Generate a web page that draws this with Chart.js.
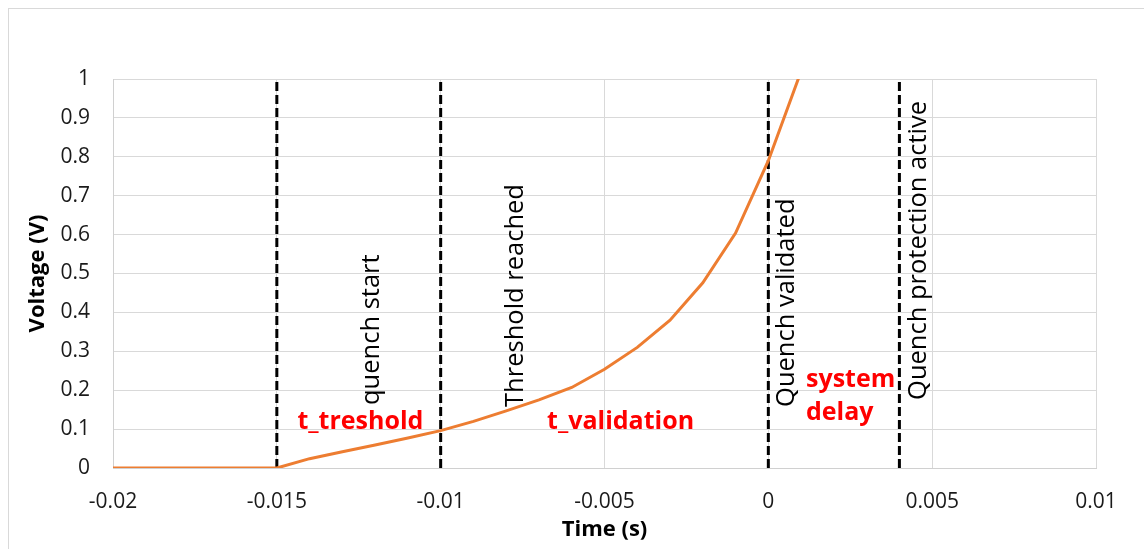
<!DOCTYPE html>
<html>
<head>
<meta charset="utf-8">
<title>Quench detection timeline</title>
<script src="https://cdn.jsdelivr.net/npm/chart.js@4.4.1/dist/chart.umd.min.js"></script>
<style>
  html, body { margin: 0; padding: 0; background: #fff; }
  #wrap { position: relative; width: 1144px; height: 549px; }
</style>
</head>
<body>
<div id="wrap"><canvas id="quench-chart"></canvas></div>
<script>
// measured coil voltage vs. time
const times = [-0.02, -0.019, -0.018, -0.017, -0.016, -0.015, -0.014, -0.013, -0.012, -0.011,
  -0.01, -0.009, -0.008, -0.007, -0.006, -0.005, -0.004, -0.003, -0.002, -0.001, 0, 0.001];
const voltages = [0, 0, 0, 0, 0, 0, 0.024, 0.042, 0.059, 0.077,
  0.096, 0.12, 0.147, 0.175, 0.207, 0.254, 0.31, 0.38, 0.476, 0.604, 0.79, 1.02];

// detection events (vertical markers)
const eventTimes = [-0.015, -0.01, 0, 0.004];
const eventNames = ['quench start', 'Threshold reached', 'Quench validated', 'Quench protection active'];

// phase names between the markers
const phaseNames = ['t_treshold', 't_validation', 'system\ndelay'];

const xTicks = [-0.02, -0.015, -0.01, -0.005, 0, 0.005, 0.01];
const yTicks = [0, 0.1, 0.2, 0.3, 0.4, 0.5, 0.6, 0.7, 0.8, 0.9, 1];

// where the text labels sit, in axis units
const eventLabelAnchors = [
  { x: -0.0121, y: 0.162 },
  { x: -0.0077, y: 0.157 },
  { x: 0.00057, y: 0.157 },
  { x: 0.0046, y: 0.175 }
];
const phaseLabelAnchors = [
  { x: -0.01245, y: 0.118, align: 'center' },
  { x: -0.00451, y: 0.118, align: 'center' },
  { x: 0.00115, y: 0.226, align: 'left' }
];

const FONT = '"Open Sans", "DejaVu Sans", sans-serif';

const datasets = [{
  label: 'Voltage',
  data: times.map((t, i) => ({ x: t, y: voltages[i] })),
  showLine: true,
  borderColor: '#ED7D31',
  borderWidth: 3,
  pointRadius: 0,
  tension: 0
}];

eventTimes.forEach((t, i) => {
  datasets.push({
    label: eventNames[i],
    data: [{ x: t, y: 0 }, { x: t, y: 1 }],
    showLine: true,
    borderColor: '#000',
    borderWidth: 3,
    borderDash: [9, 4],
    pointRadius: 0,
    clip: false
  });
});

// outer frame of the chart
const framePlugin = {
  id: 'frame',
  beforeDraw(chart) {
    const ctx = chart.ctx;
    ctx.save();
    ctx.strokeStyle = '#d9d9d9';
    ctx.lineWidth = 1;
    ctx.strokeRect(8.5, 8.5, chart.width + 20, chart.height + 20);
    ctx.restore();
  }
};

// rotated event labels and red phase labels
const labelPlugin = {
  id: 'labels',
  afterDatasetsDraw(chart) {
    const ctx = chart.ctx;
    const xs = chart.scales.x;
    const ys = chart.scales.y;
    ctx.save();

    ctx.fillStyle = '#000';
    ctx.font = '25.5px ' + FONT;
    ctx.textAlign = 'left';
    ctx.textBaseline = 'middle';
    eventNames.forEach((name, i) => {
      const a = eventLabelAnchors[i];
      ctx.save();
      ctx.translate(xs.getPixelForValue(a.x), ys.getPixelForValue(a.y));
      ctx.rotate(-Math.PI / 2);
      ctx.fillText(name, 0, 0);
      ctx.restore();
    });

    ctx.fillStyle = '#FF0000';
    ctx.font = 'bold 25px ' + FONT;
    phaseNames.forEach((name, i) => {
      const a = phaseLabelAnchors[i];
      ctx.textAlign = a.align;
      const px = xs.getPixelForValue(a.x);
      let py = ys.getPixelForValue(a.y);
      name.split('\n').forEach(line => {
        ctx.fillText(line, px, py);
        py += 33;
      });
    });

    ctx.restore();
  }
};

const ctx = document.getElementById('quench-chart').getContext('2d');
new Chart(ctx, {
  type: 'scatter',
  data: { datasets: datasets },
  plugins: [framePlugin, labelPlugin],
  options: {
    responsive: true,
    maintainAspectRatio: false,
    animation: false,
    layout: { padding: { top: 79, right: 48, bottom: 0, left: 0 } },
    plugins: {
      legend: { display: false },
      tooltip: { enabled: false }
    },
    scales: {
      x: {
        type: 'linear',
        min: xTicks[0],
        max: xTicks[xTicks.length - 1],
        afterBuildTicks: scale => { scale.ticks = xTicks.map(v => ({ value: v })); },
        afterFit: scale => { scale.height = 81; },
        grid: { color: '#d9d9d9', drawTicks: false },
        border: { color: '#d0d0d0' },
        ticks: {
          padding: 21,
          color: '#1a1a1a',
          font: { family: FONT, size: 21 },
          callback: v => String(Number(v.toFixed(3)))
        },
        title: {
          display: true,
          text: 'Time (s)',
          color: '#000',
          font: { family: FONT, size: 22, weight: 'bold' },
          padding: { top: 0, bottom: 6 }
        }
      },
      y: {
        min: yTicks[0],
        max: yTicks[yTicks.length - 1],
        afterBuildTicks: scale => { scale.ticks = yTicks.map(v => ({ value: v })); },
        afterFit: scale => { scale.width = 113; },
        grid: { color: '#d9d9d9', drawTicks: false },
        border: { color: '#d0d0d0' },
        ticks: {
          padding: 23,
          color: '#1a1a1a',
          font: { family: FONT, size: 21 },
          callback: v => String(Number(v.toFixed(1)))
        },
        title: {
          display: true,
          text: 'Voltage (V)',
          color: '#000',
          font: { family: FONT, size: 22, weight: 'bold' },
          padding: { top: 25, bottom: 0 }
        }
      }
    }
  }
});
</script>
</body>
</html>
